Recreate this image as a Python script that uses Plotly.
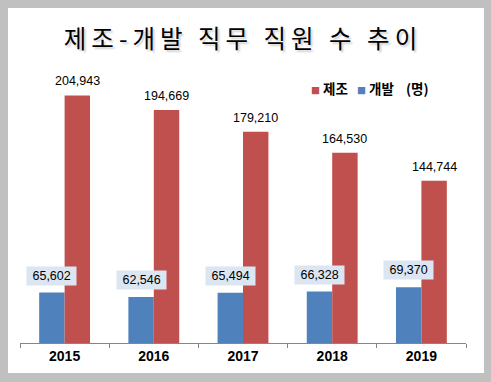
import plotly.graph_objects as go

years = ["2015", "2016", "2017", "2018", "2019"]
manufacturing = [204943, 194669, 179210, 164530, 144744]   # 제조
development = [65602, 62546, 65494, 66328, 69370]          # 개발
series_names = ["제조", "개발"]
unit_label = "(명)"
title_text = "제조-개발 직무 직원 수 추이"

RED = "#c0504d"
BLUE = "#4f81bd"
W, H = 491, 382
L, R, T, B = 20, 25, 60, 39
BARGAP = 0.43
plot_w = W - L - R
plot_h = H - T - B
cat_w = plot_w / len(years)
bar_w = (1 - BARGAP) * cat_w / 2
shift = bar_w / 2

fig = go.Figure()
fig.add_trace(go.Bar(x=years, y=development, name=series_names[1],
                     marker=dict(color=BLUE, line=dict(width=0)), showlegend=False))
fig.add_trace(go.Bar(x=years, y=manufacturing, name=series_names[0],
                     marker=dict(color=RED, line=dict(width=0)), showlegend=False))

ann = []
for i, v in enumerate(manufacturing):
    ann.append(dict(x=i, y=v, xref="x", yref="y", text=f"{v:,}", showarrow=False,
                    xshift=shift, yshift=5, yanchor="bottom", borderpad=1,
                    font=dict(family="Liberation Sans, Arial", size=12.5, color="#000000")))
for i, v in enumerate(development):
    ann.append(dict(x=i, y=v, xref="x", yref="y", text=f" {v:,} ", showarrow=False,
                    xshift=-shift, yshift=7, yanchor="bottom", borderpad=2,
                    bgcolor="#dce6f2",
                    font=dict(family="Liberation Sans, Arial", size=12.5, color="#000000")))


def px_x(p):
    return (p - L) / plot_w


def px_y(p):
    return (H - B - p) / plot_h


NB = "\u00a0"
legend_html = (f"<span style='color:{RED};font-size:9px'>■</span>{NB}<b>{series_names[0]}</b>"
               f"{NB*3}<span style='color:{BLUE};font-size:9px'>■</span>{NB}<b>{series_names[1]}</b>"
               f"{NB*4}<b>{unit_label}</b>")
ann.append(dict(x=px_x(309), y=px_y(88), xref="paper", yref="paper", text=legend_html,
                showarrow=False, xanchor="left", yanchor="middle",
                font=dict(family="Noto Sans CJK KR", size=13.5, color="#000000")))

fig.update_layout(
    width=W, height=H,
    margin=dict(l=L, r=R, t=T, b=B, pad=0),
    paper_bgcolor="#c0c0c0",
    plot_bgcolor="rgba(0,0,0,0)",
    barmode="group", bargap=BARGAP, bargroupgap=0,
    title=dict(text=f"<span style='letter-spacing:5px'>{title_text}</span>",
               x=0.5, xref="paper", xanchor="center",
               y=1 - 39 / H, yref="container", yanchor="middle",
               font=dict(family="Noto Sans CJK KR", size=24.5, color="#000000",
                         shadow="2px 2px 2px #d0d0d0")),
    xaxis=dict(type="category", showline=True, linecolor="#868686", linewidth=1,
               ticks="outside", tickson="boundaries", ticklen=4, tickcolor="#868686",
               showgrid=False, zeroline=False,
               tickfont=dict(family="Liberation Sans, Arial", size=14, color="#000000",
                             weight="bold")),
    yaxis=dict(range=[30000, 230000], visible=False, showgrid=False, zeroline=False),
    annotations=ann,
    shapes=[dict(type="rect", xref="paper", yref="paper", layer="below",
                 x0=px_x(8), x1=px_x(484), y0=px_y(373), y1=px_y(8),
                 fillcolor="#ffffff", line=dict(width=0))],
    showlegend=False,
)

fig.write_html("out.html", config={"displayModeBar": False},
               post_script="document.body.style.margin='0';document.body.style.overflow='hidden';")
